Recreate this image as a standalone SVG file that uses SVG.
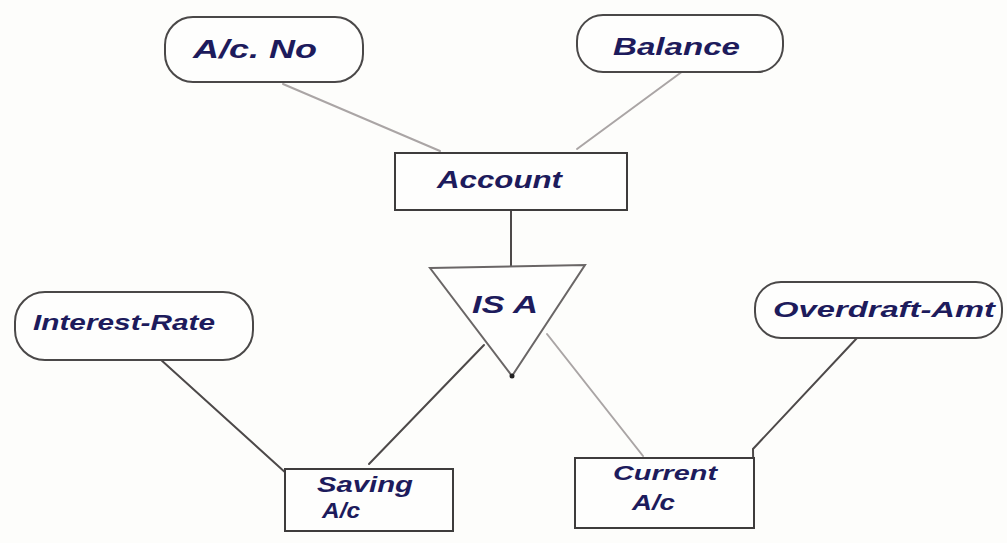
<svg xmlns="http://www.w3.org/2000/svg" width="1007" height="543" viewBox="0 0 1007 543">
  <style>
    .bg { fill: #fdfdfb; }
    .attr { fill: #fefefd; stroke: #4a4848; stroke-width: 2; }
    .ent { fill: #fefefd; stroke: #3e3c3c; stroke-width: 2; }
    .rel { fill: #fefefd; stroke: #6a6666; stroke-width: 2; }
    .lbl { font-family: "Liberation Sans", Arial, sans-serif; font-style: italic; font-weight: bold; fill: #1d1b5c; }
    .link { fill: none; stroke-width: 2; stroke-linecap: round; }
    .faint { stroke: #aaa5a5; }
    .dark { stroke: #4d4949; }
  </style>
  <rect class="bg" x="0" y="0" width="1007" height="543"/>

  <!-- connectors -->
  <g id="connectors">
    <line class="link faint" x1="283" y1="84" x2="440" y2="151"/>
    <line class="link faint" x1="683" y1="71" x2="577" y2="149"/>
    <line class="link dark" x1="511" y1="210" x2="511" y2="266"/>
    <line class="link dark" x1="160" y1="359" x2="287" y2="474"/>
    <line class="link dark" x1="369" y1="464" x2="484" y2="345"/>
    <line class="link faint" x1="547" y1="334" x2="643" y2="456"/>
    <polyline class="link dark" points="857,338 753,449 754,522"/>
  </g>

  <!-- attribute: A/c. No -->
  <g id="attr-acno">
    <rect class="attr" x="165" y="17" width="198" height="65" rx="28"/>
    <text class="lbl" x="193" y="58" font-size="26" textLength="124" lengthAdjust="spacingAndGlyphs">A/c. No</text>
  </g>

  <!-- attribute: Balance -->
  <g id="attr-balance">
    <rect class="attr" x="577" y="15" width="206" height="57" rx="26"/>
    <text class="lbl" x="613" y="55" font-size="24" textLength="127" lengthAdjust="spacingAndGlyphs">Balance</text>
  </g>

  <!-- entity: Account -->
  <g id="ent-account">
    <rect class="ent" x="395" y="153" width="232" height="57"/>
    <text class="lbl" x="437" y="188" font-size="24" textLength="125" lengthAdjust="spacingAndGlyphs">Account</text>
  </g>

  <!-- specialisation: IS A -->
  <g id="rel-isa">
    <polygon class="rel" points="430,268 585,265 512,376"/>
    <circle cx="512" cy="376" r="2.5" fill="#222"/>
    <text class="lbl" x="472" y="313" font-size="24" textLength="66" lengthAdjust="spacingAndGlyphs">IS A</text>
  </g>

  <!-- attribute: Interest-Rate -->
  <g id="attr-interest">
    <rect class="attr" x="15" y="292" width="238" height="68" rx="30"/>
    <text class="lbl" x="33" y="330" font-size="22" textLength="182" lengthAdjust="spacingAndGlyphs">Interest-Rate</text>
  </g>

  <!-- attribute: Overdraft-Amt -->
  <g id="attr-overdraft">
    <rect class="attr" x="755" y="282" width="247" height="56" rx="26"/>
    <text class="lbl" x="773" y="317" font-size="22" textLength="222" lengthAdjust="spacingAndGlyphs">Overdraft-Amt</text>
  </g>

  <!-- entity: Saving A/c -->
  <g id="ent-saving">
    <rect class="ent" x="285" y="469" width="168" height="62"/>
    <text class="lbl" x="317" y="492" font-size="22" textLength="96" lengthAdjust="spacingAndGlyphs">Saving</text>
    <text class="lbl" x="322" y="518" font-size="22" textLength="38" lengthAdjust="spacingAndGlyphs">A/c</text>
  </g>

  <!-- entity: Current A/c -->
  <g id="ent-current">
    <rect class="ent" x="575" y="458" width="179" height="70"/>
    <text class="lbl" x="613" y="480" font-size="21" textLength="104" lengthAdjust="spacingAndGlyphs">Current</text>
    <text class="lbl" x="632" y="510" font-size="22" textLength="43" lengthAdjust="spacingAndGlyphs">A/c</text>
  </g>
</svg>
